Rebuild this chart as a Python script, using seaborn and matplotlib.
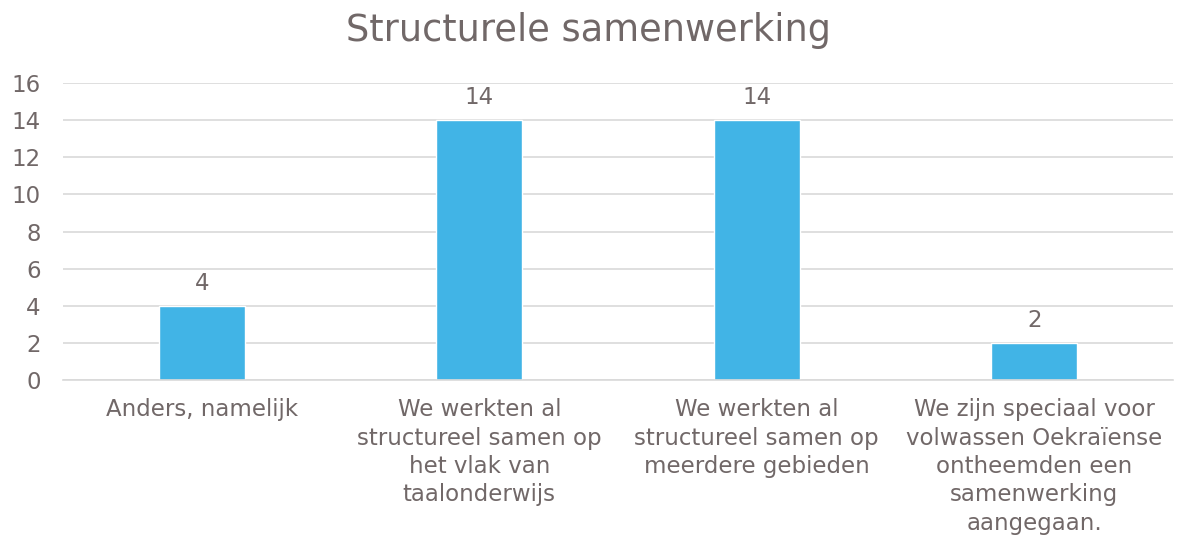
import matplotlib
matplotlib.use("Agg")
import matplotlib.pyplot as plt
import seaborn as sns
import pandas as pd

# ---------------------------
# Data
# ---------------------------
categories = [
    "Anders, namelijk",
    "We werkten al\nstructureel samen op\nhet vlak van\ntaalonderwijs",
    "We werkten al\nstructureel samen op\nmeerdere gebieden",
    "We zijn speciaal voor\nvolwassen Oekraïense\nontheemden een\nsamenwerking\naangegaan.",
]
counts = [4, 14, 14, 2]
y_ticks = [0, 2, 4, 6, 8, 10, 12, 14, 16]

df = pd.DataFrame({"categorie": categories, "aantal": counts})

text_color = "#716868"
bar_color = "#41b4e6"
grid_color = "#d9d9d9"

sns.set_theme(style="white")
plt.rcParams["font.family"] = ["DejaVu Sans"]

fig = plt.figure(figsize=(11.78, 5.43), dpi=100)
ax = fig.add_axes([0.0535, 0.300, 0.9423, 0.547])

sns.barplot(data=df, x="categorie", y="aantal", color=bar_color,
            width=0.31, saturation=1, ax=ax)

ax.set_ylim(0, 16)
ax.set_yticks(y_ticks)
ax.yaxis.grid(True, color=grid_color, linewidth=1.2)
ax.set_axisbelow(True)

for side in ["left", "right", "top"]:
    ax.spines[side].set_visible(False)
ax.spines["bottom"].set_color(grid_color)
ax.spines["bottom"].set_linewidth(1.2)

ax.tick_params(axis="both", length=0, labelsize=16.5, colors=text_color)
ax.tick_params(axis="y", pad=16)
ax.tick_params(axis="x", pad=13)
for lbl in ax.get_xticklabels():
    lbl.set_linespacing(1.3)

ax.set_xlabel("")
ax.set_ylabel("")

ax.bar_label(ax.containers[0], labels=[str(v) for v in counts],
             padding=8, fontsize=16.5, color=text_color)

fig.suptitle("Structurele samenwerking", fontsize=26.5, color=text_color,
             x=0.5, y=0.978)

plt.savefig("out.png", dpi=100)
